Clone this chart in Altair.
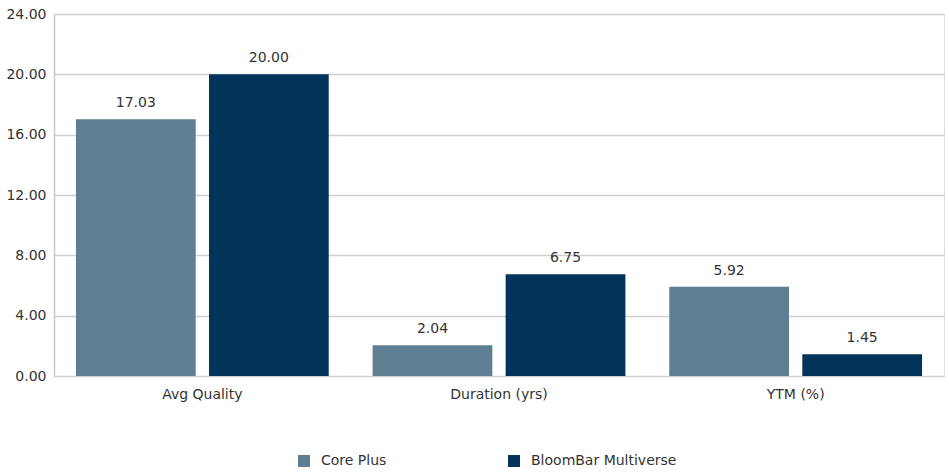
import altair as alt
import pandas as pd

categories = ["Avg Quality", "Duration (yrs)", "YTM (%)"]
series = ["Core Plus", "BloomBar Multiverse"]
core_plus = [17.03, 2.04, 5.92]
bloombar = [20.00, 6.75, 1.45]
colors = ["#5E7E91", "#023358"]

rows = []
for cat, a, b in zip(categories, core_plus, bloombar):
    rows.append({"category": cat, "series": series[0], "value": a})
    rows.append({"category": cat, "series": series[1], "value": b})
df = pd.DataFrame(rows)

FONT = "DejaVu Sans"
TEXT = "#333333"
FS = 14

x = alt.X("category:N", sort=categories, title=None,
          scale=alt.Scale(paddingInner=0.148, paddingOuter=0.074),
          axis=alt.Axis(labelAngle=0, ticks=False, domain=False, labelPadding=11,
                        labelFont=FONT, labelFontSize=FS, labelColor=TEXT))
xo = alt.XOffset("series:N", sort=series,
                 scale=alt.Scale(paddingInner=0.1, paddingOuter=0))

base = alt.Chart(df).encode(x=x, xOffset=xo)

bars = base.mark_bar().encode(
    y=alt.Y("value:Q", title=None,
            scale=alt.Scale(domain=[0, 24], nice=False),
            axis=alt.Axis(values=[0, 4, 8, 12, 16, 20, 24], format=".2f",
                          ticks=False, domain=True, domainColor="#c8c8c8",
                          domainWidth=1.5, gridColor="#d0d0d0", gridWidth=1.5,
                          labelPadding=8, labelFont=FONT, labelFontSize=FS,
                          labelColor=TEXT)),
    color=alt.Color("series:N", sort=series,
                    scale=alt.Scale(domain=series, range=colors),
                    legend=alt.Legend(title=None, orient="none", direction="horizontal",
                                      legendX=243, legendY=440,
                                      symbolType="square", symbolSize=144,
                                      symbolStrokeWidth=0, labelOffset=10,
                                      columnPadding=120,
                                      labelFont=FONT, labelFontSize=FS,
                                      labelColor=TEXT)),
)

labels = base.mark_text(baseline="bottom", dy=-9, font=FONT, fontSize=FS,
                        color=TEXT).encode(
    y="value:Q",
    text=alt.Text("value:Q", format=".2f"),
)

chart = (bars + labels).properties(
    width=890, height=362,
    autosize=alt.AutoSizeParams(type="none"),
    padding={"left": 54, "top": 14, "right": 5, "bottom": 98},
).configure_view(stroke="#c8c8c8", strokeWidth=1.5).configure(background="white")

chart.save("out.html", embed_options={"renderer": "svg", "actions": False})
